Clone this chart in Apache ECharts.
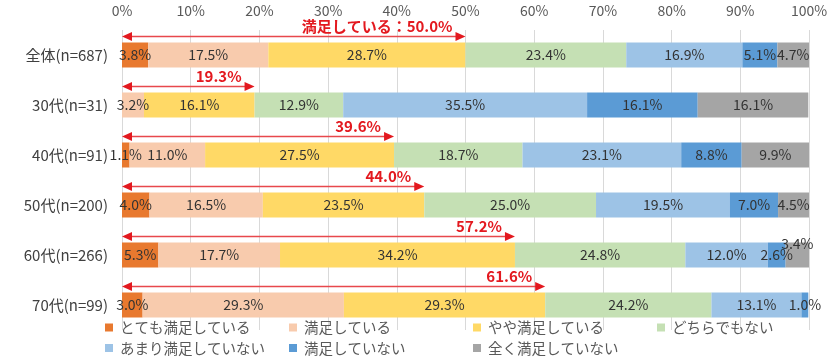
<!DOCTYPE html>
<html><head><meta charset="utf-8">
<script src="https://cdn.jsdelivr.net/npm/echarts@6/dist/echarts.min.js"></script>
<style>html,body{margin:0;padding:0;background:#fff}#c{width:840px;height:363px}</style>
</head><body><div id="c"></div>
<script>
const categories = ['全体(n=687)', '30代(n=31)', '40代(n=91)', '50代(n=200)', '60代(n=266)', '70代(n=99)'];
const seriesNames = ['とても満足している', '満足している', 'やや満足している', 'どちらでもない', 'あまり満足していない', '満足していない', '全く満足していない'];
const verySatisfied   = [3.8, 0,    1.1,  4.0,  5.3,  3.0];
const satisfied       = [17.5, 3.2, 11.0, 16.5, 17.7, 29.3];
const somewhat        = [28.7, 16.1, 27.5, 23.5, 34.2, 29.3];
const neutral         = [23.4, 12.9, 18.7, 25.0, 24.8, 24.2];
const notVery         = [16.9, 35.5, 23.1, 19.5, 12.0, 13.1];
const notSatisfied    = [5.1, 16.1, 8.8, 7.0, 2.6, 1.0];
const notAtAll        = [4.7, 16.1, 9.9, 4.5, 3.4, 0];
const satisfiedTotal  = [50.0, 19.3, 39.6, 44.0, 57.2, 61.6];
const arrowLabels     = ['満足している：50.0%', '19.3%', '39.6%', '44.0%', '57.2%', '61.6%'];
const xTicks = [0, 10, 20, 30, 40, 50, 60, 70, 80, 90, 100];

const colors = ['#E8792F', '#F8CBAD', '#FFD966', '#C5E0B4', '#9DC3E6', '#5B9BD5', '#A5A5A5'];
const allValues = [verySatisfied, satisfied, somewhat, neutral, notVery, notSatisfied, notAtAll];
const FONT = '"Noto Sans CJK JP", "Noto Sans", sans-serif';
const RED = '#E3191F';

const barSeries = seriesNames.map((name, si) => ({
  name, type: 'bar', stack: 'total', barWidth: 25,
  itemStyle: { color: colors[si] },
  label: {
    show: true, position: 'inside', color: '#333', fontSize: 14, fontFamily: FONT,
    formatter: p => (p.value > 0 ? p.value.toFixed(1) + '%' : '')
  },
  data: allValues[si].map((v, ci) => {
    if (si === 6 && ci === 4) return { value: v, label: { offset: [0, -11] } };
    return v;
  })
}));

const arrowSeries = {
  type: 'custom', name: 'arrow', silent: true, z: 10,
  encode: { x: 0, y: 1 },
  data: satisfiedTotal.map((v, i) => [v, i]),
  renderItem: (params, api) => {
    const v = api.value(0), c = api.value(1);
    const p0 = api.coord([0, c]), p1 = api.coord([v, c]);
    const y = p0[1] - 18.5, x0 = p0[0], x1 = p1[0];
    const ah = 10, aw = 4.5;
    return { type: 'group', children: [
      { type: 'line', shape: { x1: x0 + ah - 1, y1: y, x2: x1 - ah + 1, y2: y }, style: { stroke: '#E8484C', lineWidth: 1.4 } },
      { type: 'polygon', shape: { points: [[x0, y], [x0 + ah, y - aw], [x0 + ah, y + aw]] }, style: { fill: RED } },
      { type: 'polygon', shape: { points: [[x1, y], [x1 - ah, y - aw], [x1 - ah, y + aw]] }, style: { fill: RED } },
      { type: 'text', style: { text: arrowLabels[params.dataIndex], x: x1 - 13, y: y - 10, align: 'right', verticalAlign: 'middle', fill: RED, font: 'bold 15px ' + FONT } }
    ]};
  }
};

const legendCommon = {
  left: 100, itemWidth: 8, itemHeight: 8, itemGap: 8, icon: 'rect', width: 760,
  formatter: name => '{t|' + name + '}',
  textStyle: {
    rich: { t: { fontSize: 14.5, color: '#595959', fontFamily: FONT, width: 161, height: 16, lineHeight: 16, padding: [0, 0, 0, 2] } }
  }
};

const chart = echarts.init(document.getElementById('c'));
chart.setOption({
  animation: false,
  textStyle: { fontFamily: FONT },
  grid: { left: 122, right: 31, top: 30, bottom: 33 },
  legend: [
    Object.assign({ top: 314.5, data: seriesNames.slice(0, 4) }, legendCommon),
    Object.assign({ top: 335, data: seriesNames.slice(4) }, legendCommon)
  ],
  xAxis: {
    type: 'value', position: 'top', min: 0, max: 100, interval: 10,
    axisLine: { show: false }, axisTick: { show: false },
    splitLine: { lineStyle: { color: '#D9D9D9' } },
    axisLabel: { formatter: v => (xTicks.includes(v) ? v + '%' : ''), color: '#595959', fontSize: 14, margin: 12, fontFamily: FONT }
  },
  yAxis: {
    type: 'category', inverse: true, data: categories,
    axisLine: { show: false }, axisTick: { show: false },
    axisLabel: { color: '#404040', fontSize: 15, margin: 14, fontFamily: FONT }
  },
  series: barSeries.concat([arrowSeries])
});
</script></body></html>
